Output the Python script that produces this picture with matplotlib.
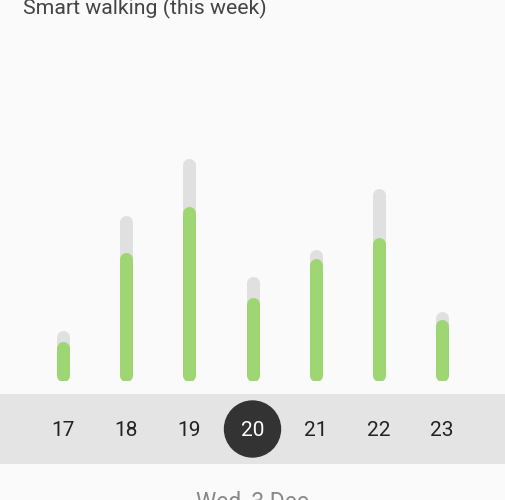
import matplotlib.pyplot as plt
from matplotlib.patches import Ellipse

# Datos de la semana
days = ['17', '18', '19', '20', '21', '22', '23']
goal = [51, 166, 223, 105, 132, 193, 70]
walked = [40, 129, 175, 84, 123, 144, 62]
selected_day = '20'
title = 'Smart walking (this week)'
date_label = 'Wed, 3 Dec'

bg = '#fafafa'
gray_bar = '#e0e0e0'
green_bar = '#9dd672'
band_color = '#e4e4e4'

W, H = 506, 500
fig = plt.figure(figsize=(W / 100, H / 100), dpi=100, facecolor=bg)
plt.rcParams['font.family'] = ['Roboto', 'DejaVu Sans']

# Eje de barras: x en indices de dia, y en las mismas unidades que los datos (1 unidad = 1 px)
bar_bottom = 381
bar_w = 13
r = bar_w / 2
ax = fig.add_axes([0, 1 - bar_bottom / H, 1, bar_bottom / H])
ax.set_facecolor(bg)
spacing = (442 - 63) / 6
x0 = -63 / spacing
ax.set_xlim(x0, x0 + W / spacing)
ax.set_ylim(0, bar_bottom)
ax.axis('off')

for i in range(len(days)):
    ax.plot([i, i], [r, goal[i] - r], color=gray_bar, lw=bar_w * 0.72,
            solid_capstyle='round', zorder=1)
    ax.plot([i, i], [r, walked[i] - r], color=green_bar, lw=bar_w * 0.72,
            solid_capstyle='round', zorder=2)

# Banda de dias
band_top, band_bot = 394, 464
bax = fig.add_axes([0, 1 - band_bot / H, 1, (band_bot - band_top) / H])
bax.set_facecolor(band_color)
bax.set_xlim(x0, x0 + W / spacing)
bax.set_ylim(0, band_bot - band_top)
bax.set_xticks([])
bax.set_yticks([])
for s in bax.spines.values():
    s.set_visible(False)

yc = (band_bot - band_top) / 2
for i, d in enumerate(days):
    if d == selected_day:
        bax.add_patch(Ellipse((i, yc), 56 / spacing, 56, color='#333333', zorder=2))
        bax.text(i, yc - 1.5, d, ha='center', va='center', fontsize=15, color='white', zorder=3)
    else:
        bax.text(i, yc - 1.5, d, ha='center', va='center', fontsize=15, color='#222222')

fig.text(23 / W, 1 - 14 / H, title, ha='left', va='baseline', fontsize=15.3, color='#444444')
fig.text(252 / W, 1 - 509 / H, date_label, ha='center', va='baseline', fontsize=16.5, color='#888888')

fig.savefig('out.png', dpi=100, facecolor=bg)
